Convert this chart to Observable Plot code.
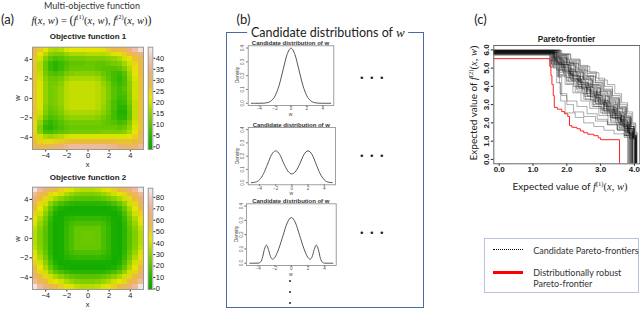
<!DOCTYPE html>
<html><head><meta charset="utf-8">
<script src="https://cdn.jsdelivr.net/npm/d3@7"></script>
<script src="https://cdn.jsdelivr.net/npm/@observablehq/plot@0.6"></script>
<style>
html,body{margin:0;padding:0;background:#fff;}
#fig{position:relative;width:640px;height:310px;overflow:hidden;font-family:Lato,sans-serif;color:#222;}
.abs{position:absolute;white-space:nowrap;}
.rf{font-family:"Liberation Sans",Arial,sans-serif;}
.mf{font-family:"Liberation Serif","DejaVu Serif",serif;}
</style></head><body><div id="fig"></div>
<script>
// ---------- DATA ----------
const gridX = [-5,-4.5,-4,-3.5,-3,-2.5,-2,-1.5,-1,-0.5,0,0.5,1,1.5,2,2.5,3,3.5,4,4.5,5];
const gridWTopDown = [5,4.5,4,3.5,3,2.5,2,1.5,1,0.5,0,-0.5,-1,-1.5,-2,-2.5,-3,-3.5,-4,-4.5,-5];
const axisTicks = [-4,-2,0,2,4];

// Objective function 1 (rows from w=5 down to w=-5)
const f1Rows = [
[30,26,22,18,17,18,21,22,22,22,22,22,22,23,26,28,28,30,34,38,43],
[28,22,18,14,13,13,15,17,17,17,18,18,18,18,19,21,23,25,28,31,34],
[27,20,14,10,8,9,11,12,12,12,13,13,13,13,14,15,17,20,23,27,30],
[27,18,11,6,4,6,8,10,10,10,11,11,10,10,11,12,13,16,20,24,28],
[27,18,11,6,4,6,9,11,11,11,11,11,10,9,9,9,10,13,18,23,28],
[27,19,12,9,8,9,12,13,14,14,14,14,13,11,9,7,6,9,16,22,28],
[27,20,14,11,11,12,15,17,17,17,17,17,16,13,10,7,5,8,15,21,27],
[27,21,15,12,12,14,18,19,19,19,19,19,18,15,12,8,6,8,14,20,27],
[27,21,15,12,13,15,18,19,19,19,19,19,18,16,13,9,7,9,14,20,27],
[27,21,15,12,13,15,18,19,19,19,19,19,18,16,13,9,7,8,13,20,27],
[27,21,15,12,13,15,18,19,19,19,19,19,18,16,13,9,6,7,13,20,27],
[27,21,15,12,13,15,18,19,19,19,19,19,18,16,12,8,5,6,12,19,27],
[27,21,14,11,12,14,18,19,19,19,19,19,18,15,12,8,4,4,11,19,27],
[27,20,13,10,11,13,16,17,17,17,17,17,16,14,11,7,3,3,10,19,27],
[26,18,11,8,9,11,14,15,15,15,15,15,14,12,10,7,4,4,10,19,27],
[25,15,7,5,7,9,11,12,12,12,12,12,12,11,10,9,7,8,13,20,27],
[25,13,5,4,6,8,10,11,11,11,11,11,11,11,11,11,10,11,15,21,27],
[25,14,8,7,9,10,11,12,12,12,12,12,12,13,13,13,13,14,17,22,28],
[26,20,17,16,17,18,20,21,21,21,21,21,21,21,21,21,21,21,22,25,30],
[28,25,24,24,25,26,27,28,28,28,28,28,28,28,28,28,27,27,27,28,31],
[30,29,29,30,31,33,35,37,37,37,37,37,37,37,36,35,33,32,31,32,36]
];
// Objective function 2 (rows from w=5 down to w=-5)
const f2Rows = [
[85,72,66,60,55,50,46,42,38,36,36,36,38,42,46,50,55,60,66,72,85],
[72,62,56,48,44,40,35,31,28,27,27,27,28,31,35,40,44,48,56,62,72],
[66,56,48,40,34,29,25,22,20,19,19,19,20,22,25,29,34,40,48,56,66],
[60,48,40,30,22,17,13,11,10,10,10,10,10,11,13,17,22,30,40,48,60],
[55,44,34,22,12,7,5,4,4,4,4,4,4,4,5,7,12,22,34,44,55],
[50,40,29,17,7,4,5,6,6,6,6,6,6,6,5,4,7,17,29,40,50],
[46,35,25,13,5,5,9,11,12,12,12,12,12,11,9,5,5,13,25,35,46],
[42,31,22,11,4,6,11,15,17,17,17,17,17,15,11,6,4,11,22,31,42],
[38,28,20,10,4,6,12,17,22,22,22,22,22,17,12,6,4,10,20,28,38],
[36,27,19,10,4,6,12,17,22,23,23,23,22,17,12,6,4,10,19,27,36],
[36,27,19,10,4,6,12,17,22,23,24,23,22,17,12,6,4,10,19,27,36],
[36,27,19,10,4,6,12,17,22,23,23,23,22,17,12,6,4,10,19,27,36],
[38,28,20,10,4,6,12,17,22,22,22,22,22,17,12,6,4,10,20,28,38],
[42,31,22,11,4,6,11,15,17,17,17,17,17,15,11,6,4,11,22,31,42],
[46,35,25,13,5,5,9,11,12,12,12,12,12,11,9,5,5,13,25,35,46],
[50,40,29,17,7,4,5,6,6,6,6,6,6,6,5,4,7,17,29,40,50],
[55,44,34,22,12,7,5,4,4,4,4,4,4,4,5,7,12,22,34,44,55],
[60,48,40,30,22,17,13,11,10,10,10,10,10,11,13,17,22,30,40,48,60],
[66,56,48,40,34,29,25,22,20,19,19,19,20,22,25,29,34,40,48,56,66],
[72,62,56,48,44,40,35,31,28,27,27,27,28,31,35,40,44,48,56,62,72],
[85,72,66,60,55,50,46,42,38,36,36,36,38,42,46,50,55,60,66,72,85]
];
const f1Ticks = [0,5,10,15,20,25,30,35,40];
const f2Ticks = [0,10,20,30,40,50,60,70,80];
const terrain = ["#00A600","#2DB600","#63C600","#A0D600","#E6E600","#E9BD3A","#ECB176","#EFC2B3","#F2F2F2"];

// Candidate densities of w
const dens1W = [-5,-4.5,-4,-3.5,-3,-2.5,-2,-1.5,-1,-0.5,0,0.5,1,1.5,2,2.5,3,3.5,4,4.5,5];
const dens1  = [0,0,0.0001,0.0009,0.0044,0.0175,0.054,0.1295,0.242,0.352,0.399,0.352,0.242,0.1295,0.054,0.0175,0.0044,0.0009,0.0001,0,0];
const dens2W = [-5,-4.5,-4,-3.5,-3,-2.5,-2,-1.5,-1,-0.5,0,0.5,1,1.5,2,2.5,3,3.5,4,4.5,5];
const dens2  = [0.0005,0.004,0.022,0.068,0.14,0.212,0.24,0.212,0.145,0.088,0.066,0.088,0.145,0.212,0.24,0.212,0.14,0.068,0.022,0.004,0.0005];
const dens3W = [-5,-4.5,-4,-3.75,-3.5,-3.25,-3,-2.75,-2.5,-2.25,-2,-1.5,-1,-0.5,0,0.5,1,1.5,2,2.25,2.5,2.75,3,3.25,3.5,3.75,4,4.5,5];
const dens3  = [0,0,0.0005,0.006,0.034,0.096,0.127,0.095,0.045,0.028,0.04,0.104,0.194,0.282,0.32,0.282,0.194,0.104,0.04,0.028,0.045,0.095,0.127,0.096,0.034,0.006,0.0005,0,0];
const densTicksY = [0,0.1,0.2,0.3,0.4];

// Pareto frontiers: [start value, x1,y1, x2,y2, ..., x_end]
const candidateFrontiers = [
[5.98,1.62,5.55,1.8,5.2,2.05,4.8,2.3,4.35,2.55,3.95,2.8,3.5,3.05,3.1,3.3,2.7,3.55,2.2,3.75,1.7,3.92,1.25,4.02],
[5.95,1.7,5.6,1.95,5.3,2.2,4.9,2.45,4.5,2.7,4.1,2.95,3.7,3.2,3.2,3.45,2.8,3.65,2.3,3.85,1.8,3.97,1.3,4.05],
[5.9,1.5,5.4,1.7,4.9,1.95,4.5,2.2,4.0,2.45,3.6,2.7,3.2,2.95,2.8,3.2,2.4,3.45,2.0,3.7,1.6,3.85,1.2,3.95],
[5.85,1.75,5.7,2.0,5.35,2.3,5.0,2.55,4.6,2.8,4.2,3.05,3.8,3.3,3.3,3.55,2.8,3.75,2.3,3.9,1.7,4.0,1.3,4.06],
[5.8,1.58,5.3,1.85,4.85,2.1,4.4,2.35,3.95,2.6,3.5,2.85,3.05,3.1,2.6,3.35,2.25,3.6,1.85,3.8,1.4,3.9],
[5.92,1.65,5.45,1.9,5.05,2.1,4.7,2.4,4.2,2.65,3.85,2.9,3.4,3.15,2.95,3.4,2.5,3.6,2.1,3.8,1.6,3.95,1.15,4.03],
[5.75,1.55,5.2,1.8,4.75,2.05,4.25,2.3,3.8,2.55,3.3,2.8,2.9,3.05,2.5,3.3,2.05,3.55,1.7,3.75,1.3,3.85],
[6.0,1.8,5.75,2.05,5.4,2.35,5.05,2.6,4.7,2.85,4.3,3.1,3.85,3.35,3.4,3.55,2.9,3.75,2.4,3.88,1.9,3.98,1.4,4.04],
[5.88,1.6,5.35,1.85,5.0,2.15,4.55,2.4,4.1,2.7,3.7,2.95,3.25,3.2,2.85,3.45,2.4,3.7,1.95,3.85,1.45,3.97,1.1,4.02],
[5.7,1.52,5.05,1.75,4.6,2.0,4.15,2.25,3.7,2.5,3.3,2.75,2.9,3.0,2.55,3.3,2.15,3.55,1.75,3.75,1.35,3.88],
[5.97,1.68,5.5,1.92,5.15,2.15,4.8,2.4,4.4,2.65,4.0,2.9,3.55,3.15,3.05,3.4,2.6,3.6,2.15,3.8,1.7,3.95,1.25,4.05],
[5.83,1.64,5.25,1.9,4.7,2.15,4.3,2.45,3.85,2.7,3.4,3.0,3.0,3.25,2.55,3.5,2.1,3.7,1.7,3.87,1.3,3.94],
[5.93,1.72,5.65,1.98,5.25,2.25,4.85,2.5,4.45,2.75,4.05,3.0,3.6,3.25,3.15,3.5,2.65,3.72,2.2,3.88,1.7,3.99,1.2,4.05],
[5.78,1.56,5.15,1.78,4.65,2.0,4.3,2.28,3.9,2.52,3.45,2.78,3.0,3.02,2.7,3.28,2.3,3.52,1.9,3.72,1.5,3.86,1.15,3.93],
[5.9,1.6,5.6,1.85,5.2,2.1,4.65,2.35,4.25,2.62,3.75,2.88,3.35,3.12,2.9,3.38,2.45,3.62,2.0,3.82,1.55,3.96,1.2,4.01],
[5.86,1.7,5.4,1.95,4.95,2.2,4.55,2.48,4.15,2.72,3.65,2.98,3.2,3.22,2.75,3.48,2.35,3.68,1.9,3.86,1.4,3.96],
[5.96,1.78,5.7,2.02,5.3,2.28,4.95,2.52,4.55,2.78,4.1,3.02,3.7,3.28,3.25,3.52,2.75,3.72,2.25,3.9,1.8,4.0,1.35,4.06],
[5.8,1.54,5.25,1.82,4.9,2.08,4.45,2.32,4.0,2.58,3.6,2.82,3.15,3.08,2.7,3.32,2.3,3.58,1.9,3.78,1.45,3.91],
[5.85,1.72,5.3,1.78,4.2,1.82,3.2,1.95,2.55,2.25,2.3,2.5,2.0,2.8,1.8,3.1,1.6,3.4,1.4,3.7,1.2,3.82],
[5.9,1.65,5.4,1.75,4.5,1.85,3.5,2.0,3.0,2.2,2.6,2.5,2.35,2.85,2.1,3.2,1.9,3.5,1.6,3.75,1.3,3.87],
[5.74,1.5,5.1,1.72,4.55,1.95,4.1,2.18,3.65,2.42,3.2,2.68,2.8,2.95,2.4,3.22,2.0,3.48,1.65,3.7,1.3,3.84],
[5.99,1.82,5.8,2.1,5.5,2.38,5.15,2.62,4.8,2.88,4.45,3.12,4.0,3.35,3.5,3.58,3.0,3.78,2.5,3.92,1.95,4.02,1.45,4.07],
[5.87,1.62,5.5,1.88,5.1,2.12,4.6,2.38,4.2,2.62,3.8,2.88,3.3,3.12,2.9,3.4,2.5,3.62,2.05,3.83,1.5,3.96,1.15,4.0],
[5.82,1.66,5.35,1.94,4.8,2.18,4.4,2.44,3.95,2.7,3.55,2.94,3.1,3.18,2.65,3.44,2.2,3.66,1.8,3.84,1.35,3.93],
[5.94,1.74,5.6,2.0,5.15,2.25,4.75,2.5,4.35,2.76,3.9,3.0,3.45,3.26,3.0,3.5,2.55,3.7,2.05,3.88,1.6,3.98,1.2,4.04],
[5.8,1.6,5.0,1.7,4.2,1.8,3.6,2.0,3.2,2.3,2.9,2.6,2.5,2.9,2.2,3.2,1.9,3.5,1.6,3.7,1.3,3.8],
[5.91,1.58,5.45,1.83,5.05,2.06,4.6,2.33,4.1,2.58,3.7,2.84,3.25,3.1,2.8,3.36,2.4,3.6,1.95,3.8,1.5,3.94,1.2,3.99],
[5.77,1.69,5.3,1.92,4.9,2.18,4.45,2.42,4.05,2.68,3.6,2.92,3.15,3.18,2.75,3.42,2.3,3.64,1.85,3.82,1.45,3.95],
[5.97,1.76,5.55,2.0,5.2,2.24,4.8,2.48,4.4,2.74,3.95,2.98,3.5,3.24,3.1,3.46,2.6,3.68,2.15,3.86,1.65,3.98,1.25,4.03],
[5.84,1.63,5.2,1.87,4.8,2.1,4.35,2.36,3.9,2.6,3.45,2.86,3.05,3.1,2.65,3.36,2.25,3.6,1.8,3.79,1.4,3.9],
[5.95,1.85,5.75,2.12,5.45,2.4,5.1,2.68,4.75,2.95,4.35,3.2,4.1,3.42,3.6,3.62,3.1,3.8,2.6,3.95,2.0,4.04,1.5,4.08],
[5.89,1.8,5.5,2.08,5.25,2.35,4.9,2.6,4.55,2.85,4.2,3.08,3.75,3.32,3.35,3.55,2.85,3.76,2.35,3.9,1.8,4.0,1.3,4.05]
];
const robustFrontier = [5.52,1.5,5.1,1.53,4.6,1.56,4.1,1.6,3.5,1.63,2.85,1.72,2.75,1.85,2.62,1.93,2.5,2.03,2.35,2.08,1.85,2.15,1.76,2.3,1.68,2.4,1.56,2.5,1.46,2.62,1.38,2.8,1.3,2.93,1.18,3.0,1.08,3.56];
const paretoTicks = {x:[0,1,2,3,4], y:[0,1,2,3,4,5,6]};

// ---------- HELPERS ----------
const fig = document.getElementById('fig');
function label(html, cx, cy, css = "", rot = 0, anchor = "center") {
  const d = document.createElement('div');
  d.className = 'abs';
  d.innerHTML = html;
  const tx = anchor === "left" ? "0" : "-50%";
  d.style.cssText = `left:${cx}px;top:${cy}px;line-height:1;transform:translate(${tx},-50%)${rot ? ` rotate(${rot}deg)` : ''};` + css;
  fig.appendChild(d);
  return d;
}
function box(left, top, w, h, css) {
  const d = document.createElement('div');
  d.style.cssText = `position:absolute;left:${left}px;top:${top}px;width:${w}px;height:${h}px;box-sizing:border-box;` + css;
  fig.appendChild(d);
  return d;
}
function place(svg, left, top, w, h) {
  const d = document.createElement('div');
  d.style.cssText = `position:absolute;left:${left}px;top:${top}px;width:${w}px;height:${h}px;`;
  svg.style.maxWidth = "none";
  d.appendChild(svg);
  fig.appendChild(d);
}
const baseStyle = (size, extra = {}) => Object.assign({background: "transparent", overflow: "visible", fontFamily: "Liberation Sans, Arial, sans-serif", fontSize: size, color: "#222"}, extra);
const colorStops = (lo, hi) => terrain.map((_, i) => lo + (hi - lo) * i / (terrain.length - 1));

// ---------- PANEL (a) ----------
function heatmap(rows, top, lo, hi) {
  const cells = [];
  rows.forEach((row, i) => row.forEach((v, j) => cells.push({x: gridX[j], w: gridWTopDown[i], v})));
  const svg = Plot.plot({
    width: 150, height: 140, marginLeft: 32, marginRight: 7, marginTop: 16.7, marginBottom: 21,
    style: baseStyle("7.5px"),
    x: {domain: [-5.25, 5.25], ticks: axisTicks, tickSize: 2.5, tickPadding: 0.5, label: null},
    y: {domain: [-5.25, 5.25], ticks: axisTicks, tickSize: 2.5, tickPadding: 1.5, label: null},
    color: {type: "linear", domain: colorStops(lo, hi), range: terrain, clamp: true},
    marks: [
      Plot.rect(cells, {x1: d => d.x - 0.25, x2: d => d.x + 0.25, y1: d => d.w - 0.25, y2: d => d.w + 0.25, fill: "v", shapeRendering: "crispEdges"}),
      Plot.frame({stroke: "#999"})
    ]
  });
  place(svg, 0, top, 150, 140);
}
function colorbar(top, lo, hi, ticks) {
  const step = (hi - lo) / 120;
  const levels = d3.range(0, 120).map(i => lo + i * step);
  const svg = Plot.plot({
    width: 30, height: 140, marginLeft: 2.7, marginRight: 22.7, marginTop: top === 30 ? 16.7 : 17.7, marginBottom: 21,
    style: baseStyle("7.5px"),
    x: {domain: [0, 1], axis: null},
    y: {domain: [lo, hi], ticks, tickSize: 2, tickPadding: 1, axis: "right", label: null},
    color: {type: "linear", domain: colorStops(lo, hi), range: terrain, clamp: true},
    marks: [
      Plot.rect(levels, {x1: 0, x2: 1, y1: d => d, y2: d => d + step * 1.05, fill: d => d + step / 2, shapeRendering: "crispEdges"}),
      Plot.frame({stroke: "#999"})
    ]
  });
  place(svg, 145, top, 30, 140);
}
heatmap(f1Rows, 30, -1.2, 45);
colorbar(30, -1.2, 45, f1Ticks);
heatmap(f2Rows, 170, -0.5, 88);
colorbar(170, -0.5, 88, f2Ticks);

label("(a)", 7.5, 18.5, "font-size:13px;color:#222;");
label("Multi-objective function", 92, 5.2, "font-size:9px;color:#333;");
label('<span class="mf" style="font-size:10.5px;"><i>f</i>(<i>x</i>, <i>w</i>) = <span style="font-size:12px">(</span><i>f</i><sup style="font-size:6.5px">(1)</sup>(<i>x</i>, <i>w</i>), <i>f</i><sup style="font-size:6.5px">(2)</sup>(<i>x</i>, <i>w</i>)<span style="font-size:12px">)</span></span>', 91.5, 17.5, "color:#222;");
label("Objective function 1", 88, 37, "font-size:8px;font-weight:bold;color:#222;", 0).classList.add("rf");
label("Objective function 2", 88, 178.3, "font-size:8px;font-weight:bold;color:#222;", 0).classList.add("rf");
label("w", 18.3, 98, "font-size:7.5px;color:#222;", -90).classList.add("rf");
label("w", 18.3, 239, "font-size:7.5px;color:#222;", -90).classList.add("rf");
label("x", 87.5, 164.6, "font-size:7.5px;color:#222;").classList.add("rf");
label("x", 87.5, 304.6, "font-size:7.5px;color:#222;").classList.add("rf");

// ---------- PANEL (b) ----------
box(226.4, 31.8, 197.8, 275.8, "border:1.8px solid #4a6aa5;");
label('Candidate distributions of <i class="mf" style="font-size:13px">w</i>', 327.8, 32.6, "font-size:12.5px;background:#fff;padding:0 4px;color:#222;");
label("(b)", 243.5, 18.5, "font-size:13px;color:#222;");

function density(ws, ds, left, top, height, mL, mR, mT, mB) {
  const pts = ws.map((w, i) => ({w, d: ds[i]}));
  const svg = Plot.plot({
    width: 115, height, marginLeft: mL, marginRight: mR, marginTop: mT, marginBottom: mB,
    style: baseStyle("4.5px", {color: "#555"}),
    x: {domain: [-5.4, 5.4], ticks: axisTicks, tickSize: 1.5, tickPadding: 0, label: null},
    y: {domain: [-0.016, 0.416], ticks: densTicksY, tickFormat: ".1f", tickRotate: -90, tickSize: 1.5, tickPadding: 2.5, label: null},
    marks: [
      Plot.frame({stroke: "#888", strokeWidth: 0.8}),
      Plot.line(pts, {x: "w", y: "d", curve: "monotone-x", stroke: "#555", strokeWidth: 1})
    ]
  });
  place(svg, left, top, 115, height);
}
density(dens1W, dens1, 225, 35, 80, 22.7, 6.7, 10.3, 10);
density(dens2W, dens2, 225, 118, 80, 22.7, 5, 9, 13.7);
density(dens3W, dens3, 225, 193, 80, 21, 4.3, 10.3, 8);
const dTitle = "font-size:6px;font-weight:bold;color:#333;";
[[290.5, 42.6], [291.3, 125], [290.8, 200.8]].forEach(([x, y]) => label("Candidate distribution of w", x, y, dTitle).classList.add("rf"));
[[237, 75], [237, 156], [235.5, 234]].forEach(([x, y]) => label("Density", x, y, "font-size:5px;color:#444;", -90).classList.add("rf"));
[[290.5, 113.6], [291.3, 192.9], [290.8, 274.3]].forEach(([x, y]) => label("w", x, y, "font-size:5px;color:#444;").classList.add("rf"));
const dotSpan = '<span style="display:inline-block;width:10px;text-align:center">·</span>';
[77.3, 154.5, 232.3].forEach(y => label(dotSpan + dotSpan + dotSpan, 371.7, y, "font-size:13px;font-weight:bold;color:#222;line-height:6px;"));
// vertical ellipsis below the last candidate
[280.5, 291.5, 302.5].forEach(y => box(289, y - 1, 2, 2, "background:#222;border-radius:50%;"));

// ---------- PANEL (c) ----------
function toPoints(arr, id) {
  const pts = [{id, x: -0.3, y: arr[0]}];
  for (let i = 1; i + 1 < arr.length; i += 2) pts.push({id, x: arr[i], y: arr[i + 1]});
  pts.push({id, x: arr[arr.length - 1], y: -0.6});
  return pts;
}
const candPts = candidateFrontiers.flatMap((a, i) => toPoints(a, i));
const robustPts = toPoints(robustFrontier, "robust");
const pareto = Plot.plot({
  width: 170, height: 140, marginLeft: 23.3, marginRight: 0.7, marginTop: 15, marginBottom: 6.7,
  style: baseStyle("8px", {fontWeight: "bold", color: "#222"}),
  x: {domain: [-0.16, 4.16], ticks: paretoTicks.x, tickSize: 2.5, tickPadding: 0.5, label: null},
  y: {domain: [-0.24, 6.24], ticks: paretoTicks.y, tickRotate: -90, tickSize: 2.5, tickPadding: 2, label: null},
  marks: [
    Plot.line(candPts, {x: "x", y: "y", z: "id", curve: "step-after", stroke: "#000", strokeOpacity: 0.4, strokeWidth: 0.8, clip: true}),
    Plot.line(robustPts, {x: "x", y: "y", curve: "step-after", stroke: "#f22", strokeWidth: 1, clip: true}),
    Plot.frame({stroke: "#666"})
  ]
});
place(pareto, 470, 30, 170, 140);
label("(c)", 480.5, 18.5, "font-size:13px;color:#222;");
label("Pareto-frontier", 566.5, 39.3, "font-size:8.3px;font-weight:bold;color:#222;").classList.add("rf");
const fx = n => `Expected value of <span class="mf" style="font-size:10.5px"><i>f</i><sup style="font-size:6.5px">(${n})</sup>(<i>x</i>, <i>w</i>)</span>`;
label(fx(2), 473, 102.5, "font-size:10px;color:#222;", -90);
label(fx(1), 570, 186, "font-size:10px;color:#222;");

// legend
box(484.3, 237.7, 155.2, 55.6, "border:1px solid #b8c4dc;");
box(493, 249.2, 30, 1.6, "border-top:1.6px dotted #000;");
box(493.3, 271.4, 30, 2.6, "background:#f00;");
label("Candidate Pareto-frontiers", 533.3, 250, "font-size:9px;color:#333;", 0, "left");
label("Distributionally robust<br>Pareto-frontier", 533.3, 277.8, "font-size:9px;color:#333;line-height:11px;", 0, "left");
</script></body></html>
